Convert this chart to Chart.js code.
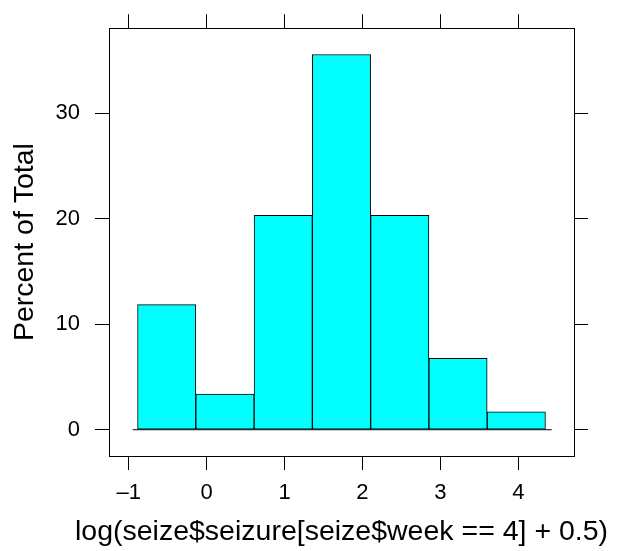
<!DOCTYPE html>
<html>
<head>
<meta charset="utf-8">
<script src="https://cdn.jsdelivr.net/npm/chart.js@4/dist/chart.umd.min.js"></script>
<style>
  body { margin: 0; background: #fff; }
  canvas { display: block; }
</style>
</head>
<body>
<canvas id="histChart" width="627" height="551"></canvas>
<script>
// Histogram bin edges and percent of total in each bin
const breaks = [-0.887, -0.139, 0.609, 1.357, 2.105, 2.853, 3.601, 4.349];
const percents = [11.86, 3.39, 20.34, 35.59, 20.34, 6.78, 1.69];
const baselineX = [-0.95, 4.43];

// Tick labels
const xTicks = [-1, 0, 1, 2, 3, 4];
const yTicks = [0, 10, 20, 30];

const xTitle = "log(seize$seizure[seize$week == 4] + 0.5)";
const yTitle = "Percent of Total";

// Axis limits, padded like lattice does (7% each side)
const xPad = (breaks[breaks.length - 1] - breaks[0]) * 0.07;
const xMin = breaks[0] - xPad;
const xMax = breaks[breaks.length - 1] + xPad;
const yTop = Math.max(...percents);
const yMin = -yTop * 0.07;
const yMax = yTop * 1.07;

const fontFamily = "'Liberation Sans', Arial, sans-serif";
const font = { family: fontFamily, size: 22 };
const titleFont = { family: fontFamily, size: 28.5 };

// Bars sit at bin midpoints
const barData = percents.map((p, i) => ({ x: (breaks[i] + breaks[i + 1]) / 2, y: p }));

function setTicks(list) {
    return (scale) => { scale.ticks = list.map(v => ({ value: v })); };
}

// The x title is wider than the panel, so draw it ourselves (the axis title gets squeezed)
const xTitlePlugin = {
    id: 'xTitle',
    afterDraw(chart) {
        const c = chart.ctx;
        const area = chart.chartArea;
        c.save();
        c.fillStyle = '#000';
        c.font = titleFont.size + "px " + fontFamily;
        c.textAlign = 'center';
        c.textBaseline = 'middle';
        c.fillText(xTitle, (area.left + area.right) / 2, chart.height - 19);
        c.restore();
    }
};

const gridOpts = { drawOnChartArea: false, drawTicks: true, tickLength: 14, color: '#000', tickWidth: 1, offset: false };
const borderOpts = { display: true, color: '#000', width: 1 };

const ctx = document.getElementById("histChart").getContext("2d");
new Chart(ctx, {
    data: {
        datasets: [
            {
                type: 'bar',
                data: barData,
                backgroundColor: '#00FFFF',
                borderColor: '#000',
                borderWidth: 1,
                borderSkipped: false,
                barPercentage: 1,
                categoryPercentage: 1,
            },
            {
                type: 'line',
                data: baselineX.map(x => ({ x: x, y: 0 })),
                borderColor: '#000',
                borderWidth: 1,
                pointRadius: 0,
            }
        ]
    },
    plugins: [xTitlePlugin],
    options: {
        responsive: false,
        animation: false,
        devicePixelRatio: 1,
        layout: { padding: 0 },
        plugins: {
            legend: { display: false },
            tooltip: { enabled: false }
        },
        scales: {
            x: {
                type: 'linear',
                position: 'bottom',
                offset: false,
                min: xMin,
                max: xMax,
                afterBuildTicks: setTicks(xTicks),
                afterFit: (s) => { s.height = 95; },
                grid: gridOpts,
                border: borderOpts,
                ticks: {
                    color: '#000',
                    font: font,
                    padding: 10,
                    maxRotation: 0,
                    callback: (v) => String(v).replace('-', '\u2013')
                }
            },
            xTop: {
                type: 'linear',
                position: 'top',
                offset: false,
                min: xMin,
                max: xMax,
                afterBuildTicks: setTicks(xTicks),
                afterFit: (s) => { s.height = 22; },
                grid: gridOpts,
                border: borderOpts,
                ticks: { display: false }
            },
            y: {
                type: 'linear',
                position: 'left',
                min: yMin,
                max: yMax,
                afterBuildTicks: setTicks(yTicks),
                afterFit: (s) => { s.width = 109; },
                grid: gridOpts,
                border: borderOpts,
                ticks: { color: '#000', font: font, padding: 15 },
                title: { display: true, text: yTitle, color: '#000', font: titleFont, padding: { top: 8, bottom: 0 } }
            },
            yRight: {
                type: 'linear',
                position: 'right',
                min: yMin,
                max: yMax,
                afterBuildTicks: setTicks(yTicks),
                afterFit: (s) => { s.width = 53; },
                grid: gridOpts,
                border: borderOpts,
                ticks: { display: false }
            }
        }
    }
});
</script>
</body>
</html>
